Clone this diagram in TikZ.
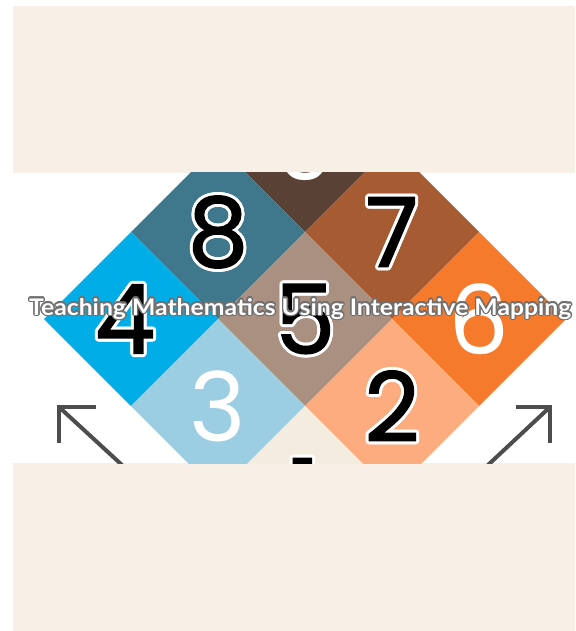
\documentclass[tikz,border=0pt]{standalone}
\usepackage{fontspec}
\usepackage{graphicx}
\setmainfont{Poppins}
\newfontfamily\digitfill{Poppins}[FakeBold=1.5]
\newfontfamily\titlefont{Lato}
\usetikzlibrary{calc}
\definecolor{cream}{HTML}{F8F0E6}
\definecolor{cNine}{HTML}{5A4136}
\definecolor{cEight}{HTML}{3F788D}
\definecolor{cSeven}{HTML}{A65B33}
\definecolor{cFour}{HTML}{00ADE6}
\definecolor{cFive}{HTML}{AA9080}
\definecolor{cSix}{HTML}{F57A2B}
\definecolor{cThree}{HTML}{9BCDE3}
\definecolor{cTwo}{HTML}{FDAC7F}
\definecolor{cOne}{HTML}{F3ECDF}
\definecolor{arrowgray}{HTML}{4D4D4D}
\definecolor{titleline}{HTML}{707070}
\tikzset{
  digit/.style={font=\digitfill\fontsize{96}{96}\selectfont, inner sep=0pt, anchor=center},
  plaindigit/.style={font=\fontsize{96}{96}\selectfont, inner sep=0pt, anchor=center},
  titletxt/.style={inner sep=0pt, anchor=base west},
  arrowline/.style={draw=arrowgray, line width=4pt, line cap=butt, line join=miter},
}
% #1 style, #2 name, #3 position, #4 fill, #5 outline, #6 radius, #7 text
\newcommand\outlinednode[7]{%
  \foreach \a in {0,22.5,...,337.5}{\node[#1,text=#5] at ($(#3)+(\a:#6pt)$) {#7};}
  \node[#1,text=#4] (#2) at (#3) {#7};}
\newcommand\tile[2]{% center, colour
  \fill[#2] ($(#1)+(-87,0)$) -- ($(#1)+(0,-87)$) -- ($(#1)+(87,0)$) -- ($(#1)+(0,87)$) -- cycle;}
\newcommand\titlestr{\resizebox{542pt}{17pt}{\titlefont\bfseries Teaching Mathematics Using Interactive Mapping}}
\begin{document}
\begin{tikzpicture}[x=1pt,y=-1pt]
\useasboundingbox (0,0) rectangle (575,631);
\fill[white] (0,0) rectangle (575,631);
\fill[cream] (13,6) rectangle (575,631);
\fill[white] (13,173) rectangle (575,463);
\coordinate (t9) at (305,145);
\coordinate (t8) at (218,232);
\coordinate (t7) at (392,232);
\coordinate (t4) at (131,319);
\coordinate (t5) at (305,319);
\coordinate (t6) at (479,319);
\coordinate (t3) at (218,406);
\coordinate (t2) at (392,406);
\coordinate (t1) at (305,493);
\coordinate (t4d) at (125,319);
\begin{scope}
\clip (13,173) rectangle (575,463);
\tile{t9}{cNine}
\tile{t8}{cEight}
\tile{t7}{cSeven}
\tile{t4}{cFour}
\tile{t5}{cFive}
\tile{t6}{cSix}
\tile{t3}{cThree}
\tile{t2}{cTwo}
\tile{t1}{cOne}
\node[plaindigit,text=white] (n9) at (t9) {9};
\outlinednode{digit}{n8}{t8}{black}{white}{3}{8}
\outlinednode{digit}{n7}{t7}{black}{white}{3}{7}
\outlinednode{digit}{n4}{t4d}{black}{white}{3}{4}
\outlinednode{digit}{n5}{t5}{black}{white}{3}{5}
\node[plaindigit,text=white] (n6) at (t6) {6};
\node[plaindigit,text=white] (n3) at (t3) {3};
\outlinednode{digit}{n2}{t2}{black}{white}{3}{2}
\outlinednode{digit}{n1}{t1}{black}{white}{3}{1}
% arrows
\coordinate (lt) at (59,407);
\coordinate (ls) at (122,465);
\coordinate (rt) at (550,407);
\coordinate (rs) at (488,465);
\draw[arrowline] (ls) -- (lt);
\draw[arrowline] ($(lt)+(37,0)$) -- (lt) -- ($(lt)+(0,36)$);
\draw[arrowline] (rs) -- (rt);
\draw[arrowline] ($(rt)+(-34,0)$) -- (rt) -- ($(rt)+(0,36)$);
% title
\coordinate (tpos) at (29,315);
\outlinednode{titletxt}{title}{tpos}{white}{titleline}{1.4}{\titlestr}
\end{scope}
\end{tikzpicture}
\end{document}
